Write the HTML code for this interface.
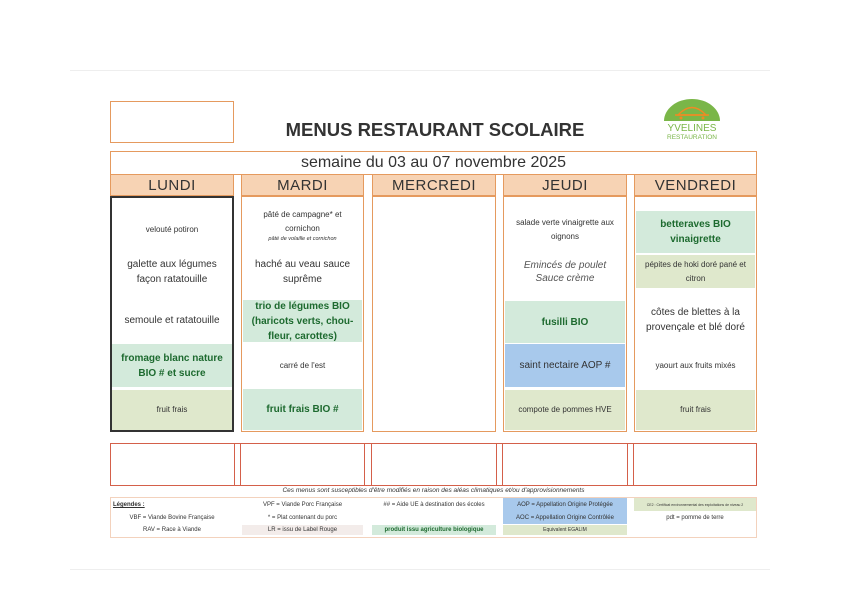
<!DOCTYPE html>
<html><head><meta charset="utf-8"><style>
*{margin:0;padding:0;box-sizing:border-box}
body{width:842px;height:595px;background:#fff;position:relative;overflow:hidden;font-family:"Comic Sans MS","Liberation Sans",sans-serif;color:#333}
.a{position:absolute}
.c{display:flex;align-items:center;justify-content:center;text-align:center;padding:0 6px}
.hd{background:#f7d3b4;border:1.5px solid #e59a5e;font-size:15px;color:#333;letter-spacing:.5px}
.col{border:1.5px solid #e59a5e}
.t{font-size:8px;line-height:14px}
.m{font-size:10px;line-height:15px}
.g{background:#d3eadb;color:#1d6a2f;font-weight:bold;font-size:10px;line-height:15px}
.o{background:#dfe8cc}
.b{background:#a8c9ec}
.lg{font-size:6px;line-height:8px;padding:0}
</style></head><body>
<div class="a" style="left:70px;top:70px;width:700px;border-top:1px solid #eee"></div>
<div class="a" style="left:70px;top:569px;width:700px;border-top:1px solid #eee"></div>
<div class="a" style="left:110px;top:101px;width:124px;height:42px;border:1.5px solid #e59a5e"></div>
<div class="a" style="left:230px;top:119px;width:410px;text-align:center;font-size:18.5px;font-weight:bold;color:#333">MENUS RESTAURANT SCOLAIRE</div>
<svg class="a" style="left:650px;top:96px" width="75" height="48">
<path d="M14 25 A28 22 0 0 1 70 25 Z" fill="#7ab648"/>
<path d="M28 19 Q42 4 56 19 Z" fill="none" stroke="#f08a24" stroke-width="1.5"/>
<line x1="25" y1="19" x2="59" y2="19" stroke="#f08a24" stroke-width="1.5"/>
<circle cx="31" cy="22" r="1.5" fill="#f08a24"/><circle cx="53" cy="22" r="1.5" fill="#f08a24"/>
<text x="42" y="35" text-anchor="middle" font-family="Liberation Sans" font-size="10" fill="#7ab648">YVELINES</text>
<text x="42" y="43" text-anchor="middle" font-family="Liberation Sans" font-size="6.5" fill="#7ab648">RESTAURATION</text>
</svg>
<div class="a c" style="left:110px;top:151px;width:647px;height:24px;border:1.5px solid #e59a5e;font-size:16px">semaine du 03 au 07 novembre 2025</div>

<div class="a c hd" style="left:110px;top:174px;width:124px;height:22px">LUNDI</div>
<div class="a c hd" style="left:241px;top:174px;width:123px;height:22px">MARDI</div>
<div class="a c hd" style="left:372px;top:174px;width:124px;height:22px">MERCREDI</div>
<div class="a c hd" style="left:503px;top:174px;width:124px;height:22px">JEUDI</div>
<div class="a c hd" style="left:634px;top:174px;width:123px;height:22px">VENDREDI</div>

<!-- Lundi -->
<div class="a col" style="left:110px;top:196px;width:124px;height:236px;border:2px solid #333"></div>
<div class="a c t" style="left:112px;top:210px;width:120px;height:40px">velouté potiron</div>
<div class="a c m" style="left:112px;top:252px;width:120px;height:40px;padding:0 12px">galette aux légumes façon ratatouille</div>
<div class="a c m" style="left:112px;top:300px;width:120px;height:40px">semoule et ratatouille</div>
<div class="a c g" style="left:112px;top:344px;width:120px;height:43px">fromage blanc nature BIO # et sucre</div>
<div class="a c t o" style="left:112px;top:390px;width:120px;height:40px">fruit frais</div>
<!-- Mardi -->
<div class="a col" style="left:241px;top:196px;width:123px;height:236px"></div>
<div class="a c t" style="left:243px;top:202px;width:119px;height:46px;flex-direction:column;padding:0 14px">pâté de campagne* et cornichon<span style="font-size:5.5px;line-height:7px;font-style:italic">pâté de volaille et cornichon</span></div>
<div class="a c m" style="left:243px;top:252px;width:119px;height:40px">haché au veau sauce suprême</div>
<div class="a c g" style="left:243px;top:300px;width:119px;height:42px">trio de légumes BIO (haricots verts, chou-fleur, carottes)</div>
<div class="a c t" style="left:243px;top:344px;width:119px;height:43px">carré de l'est</div>
<div class="a c g" style="left:243px;top:389px;width:119px;height:41px">fruit frais BIO #</div>
<!-- Mercredi -->
<div class="a col" style="left:372px;top:196px;width:124px;height:236px"></div>
<!-- Jeudi -->
<div class="a col" style="left:503px;top:196px;width:124px;height:236px"></div>
<div class="a c t" style="left:505px;top:210px;width:120px;height:40px">salade verte vinaigrette aux oignons</div>
<div class="a c" style="left:505px;top:256px;width:120px;height:32px;font-size:10px;line-height:13px;color:#555;font-style:italic">Emincés de poulet<br>Sauce crème</div>
<div class="a c g" style="left:505px;top:301px;width:120px;height:42px">fusilli BIO</div>
<div class="a c b" style="left:505px;top:344px;width:120px;height:43px;font-size:10px;color:#333">saint nectaire AOP #</div>
<div class="a c t o" style="left:505px;top:390px;width:120px;height:40px">compote de pommes HVE</div>
<!-- Vendredi -->
<div class="a col" style="left:634px;top:196px;width:123px;height:236px"></div>
<div class="a c g" style="left:636px;top:211px;width:119px;height:42px">betteraves BIO vinaigrette</div>
<div class="a c t o" style="left:636px;top:255px;width:119px;height:33px">pépites de hoki doré pané et citron</div>
<div class="a c m" style="left:636px;top:298px;width:119px;height:44px">côtes de blettes à la provençale et blé doré</div>
<div class="a c t" style="left:636px;top:344px;width:119px;height:43px">yaourt aux fruits mixés</div>
<div class="a c t o" style="left:636px;top:390px;width:119px;height:40px">fruit frais</div>

<!-- bottom row -->
<div class="a" style="left:110px;top:443px;width:647px;height:43px;border:1px solid #d4604a"></div>
<div class="a" style="left:234px;top:443px;width:7px;height:43px;border-left:1px solid #d4604a;border-right:1px solid #d4604a"></div>
<div class="a" style="left:364px;top:443px;width:8px;height:43px;border-left:1px solid #d4604a;border-right:1px solid #d4604a"></div>
<div class="a" style="left:496px;top:443px;width:7px;height:43px;border-left:1px solid #d4604a;border-right:1px solid #d4604a"></div>
<div class="a" style="left:627px;top:443px;width:7px;height:43px;border-left:1px solid #d4604a;border-right:1px solid #d4604a"></div>
<div class="a" style="left:110px;top:487px;width:647px;text-align:center;font-size:6.5px;font-style:italic">Ces menus sont susceptibles d'être modifiés en raison des aléas climatiques et/ou d'approvisionnements</div>

<!-- legend -->
<div class="a" style="left:110px;top:497px;width:647px;height:41px;border:1px solid #f3d2bd"></div>
<div class="a lg" style="left:113px;top:501px;text-decoration:underline;font-weight:bold">Légendes :</div>
<div class="a lg c" style="left:240px;top:500px;width:125px;height:9px">VPF = Viande Porc Française</div>
<div class="a lg c" style="left:372px;top:500px;width:124px;height:9px">## = Aide UE à destination des écoles</div>
<div class="a lg c b" style="left:503px;top:498px;width:124px;height:26px;align-items:flex-start;padding-top:3px">AOP = Appellation Origine Protégée</div>
<div class="a lg c b" style="left:503px;top:512px;width:124px;height:11px">AOC = Appellation Origine Contrôlée</div>
<div class="a c o" style="left:634px;top:498px;width:122px;height:13px;font-size:3.5px;line-height:4px">CE2 : Certificat environnemental des exploitations de niveau 2</div>
<div class="a lg c" style="left:110px;top:513px;width:124px;height:9px">VBF = Viande Bovine Française</div>
<div class="a lg c" style="left:240px;top:513px;width:125px;height:9px">* = Plat contenant du porc</div>
<div class="a lg c" style="left:634px;top:513px;width:122px;height:9px">pdt = pomme de terre</div>
<div class="a lg c" style="left:110px;top:525px;width:124px;height:10px">RAV = Race à Viande</div>
<div class="a lg c" style="left:242px;top:525px;width:121px;height:10px;background:#f3ecea">LR = issu de Label Rouge</div>
<div class="a lg c" style="left:372px;top:525px;width:124px;height:10px;background:#d3eadb;color:#1d6a2f;font-weight:bold">produit issu agriculture biologique</div>
<div class="a c o" style="left:503px;top:525px;width:124px;height:10px;font-size:5px;padding:0">Equivalent EGALIM</div>
</body></html>
